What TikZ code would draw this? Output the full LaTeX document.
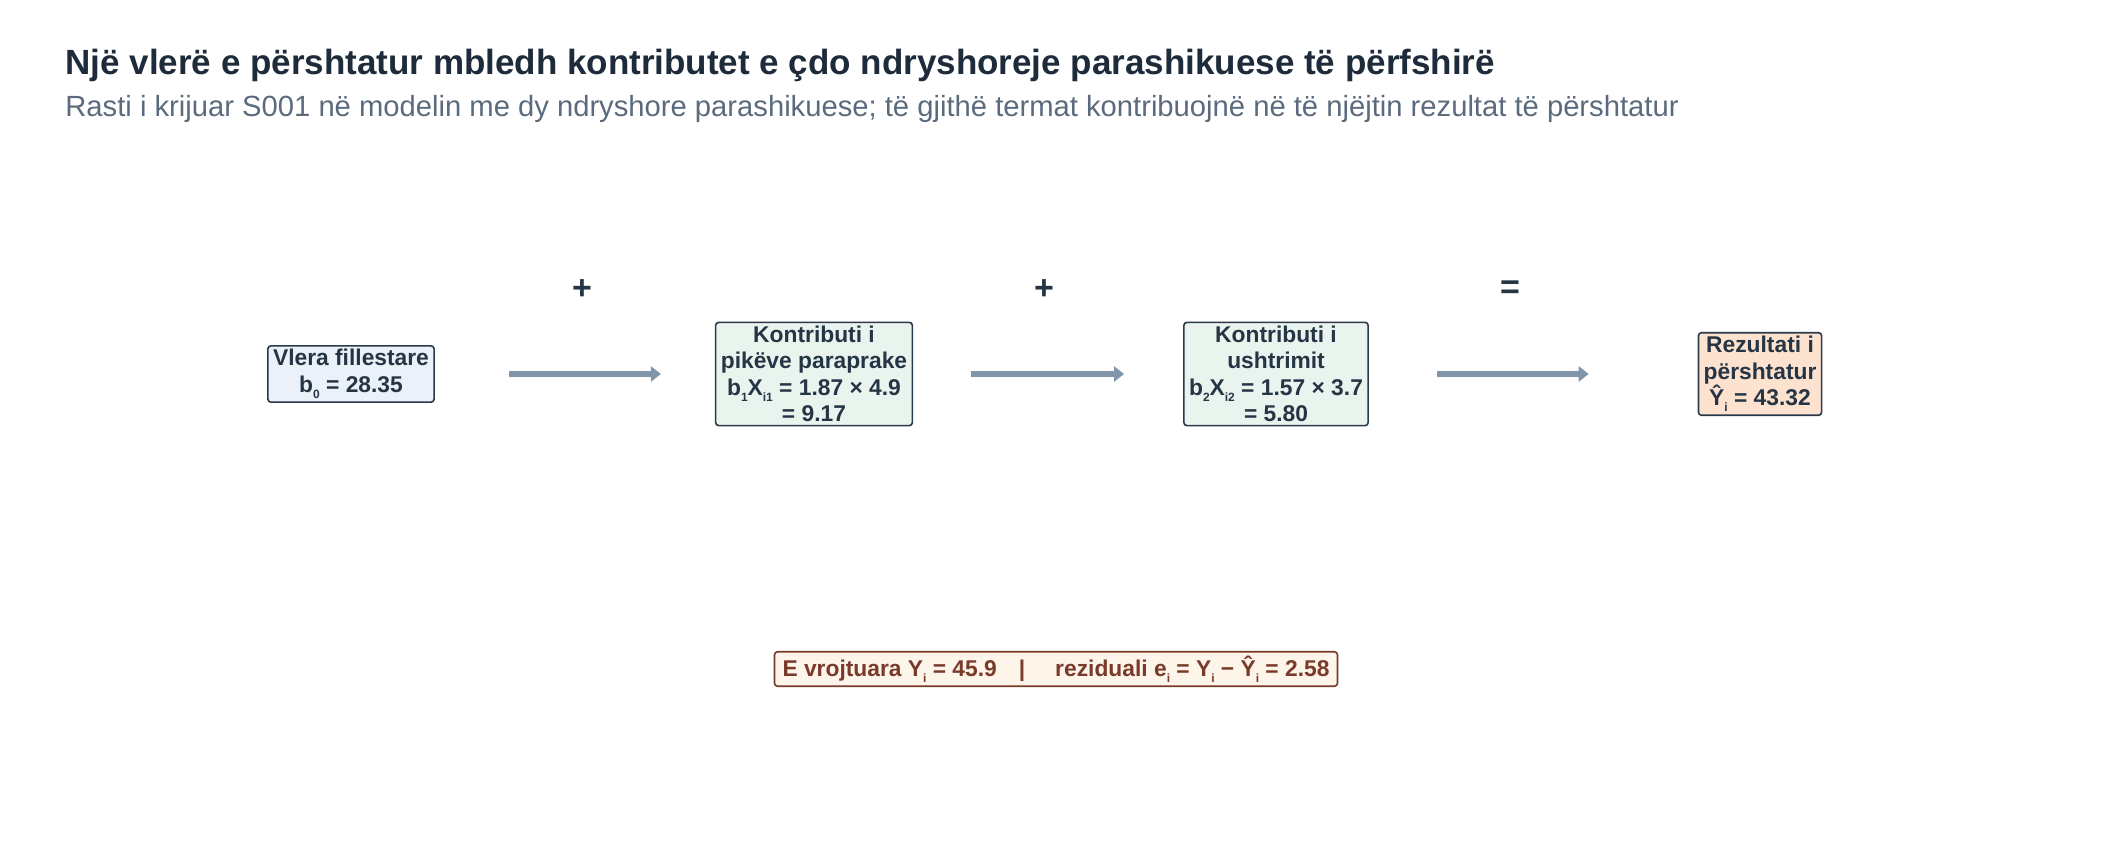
\documentclass[tikz,border=0pt]{standalone}
\usepackage{fontspec}
\setmainfont{Liberation Sans}
\usetikzlibrary{arrows.meta}
\definecolor{titlec}{HTML}{1E2B3A}
\definecolor{subc}{HTML}{5B6B7D}
\definecolor{edgec}{HTML}{2B3A4A}
\definecolor{textc}{HTML}{263545}
\definecolor{fillA}{HTML}{EAF1F8}
\definecolor{fillB}{HTML}{E9F4EE}
\definecolor{fillC}{HTML}{FDE2CF}
\definecolor{arrowc}{HTML}{8096A8}
\definecolor{obsfill}{HTML}{FDF4EA}
\definecolor{obsc}{HTML}{7A3A2A}
\newcommand{\lowsub}[1]{\raisebox{-0.5ex}{\fontsize{6}{6}\selectfont #1}}
\tikzset{
  termbox/.style={draw=edgec, line width=0.8pt, rounded corners=1.5pt, text=textc,
    font=\bfseries\fontsize{11.4}{13.2}\selectfont, align=center, inner xsep=2.6pt, inner ysep=1.8pt},
  flow/.style={draw=arrowc, line width=2.8pt, -{Triangle[length=5pt,width=7.5pt]}},
  opsign/.style={text=textc, font=\bfseries\fontsize{17}{18}\selectfont},
}
\begin{document}
\begin{tikzpicture}[x=0.5pt,y=-0.5pt]
\useasboundingbox (0,0) rectangle (2112,844);
\node[anchor=west, inner sep=0, text=titlec, font=\bfseries\fontsize{17.5}{20}\selectfont] (title) at (65,65)
  {Një vlerë e përshtatur mbledh kontributet e çdo ndryshoreje parashikuese të përfshirë};
\node[anchor=west, inner sep=0, text=subc, font=\fontsize{14.6}{17}\selectfont] (subtitle) at (65,109)
  {Rasti i krijuar S001 në modelin me dy ndryshore parashikuese; të gjithë termat kontribuojnë në të njëjtin rezultat të përshtatur};

\node[termbox, fill=fillA] (b0) at (351,374) {Vlera fillestare\\b\lowsub{0} = 28.35};
\node[termbox, fill=fillB] (b1) at (814,374) {Kontributi i\\pikëve paraprake\\b\lowsub{1}X\lowsub{i1} = 1.87 × 4.9\\= 9.17};
\node[termbox, fill=fillB] (b2) at (1276,374) {Kontributi i\\ushtrimit\\b\lowsub{2}X\lowsub{i2} = 1.57 × 3.7\\= 5.80};
\node[termbox, fill=fillC] (yhat) at (1760,374) {Rezultati i\\përshtatur\\Ŷ\lowsub{i} = 43.32};

\draw[flow] ([xshift=37pt]b0.east) -- ([xshift=-27pt]b1.west);
\draw[flow] ([xshift=29pt]b1.east) -- ([xshift=-29.5pt]b2.west);
\draw[flow] ([xshift=34pt]b2.east) -- ([xshift=-54.5pt]yhat.west);

\node[opsign] (op1) at (582,290) {+};
\node[opsign] (op2) at (1044,290) {+};
\node[opsign] (op3) at (1510,290) {=};

\node[draw=obsc, line width=0.8pt, rounded corners=1.5pt, fill=obsfill, text=obsc,
  font=\bfseries\fontsize{11.4}{13}\selectfont, inner xsep=4pt, inner ysep=2pt] (obs) at (1056,669)
  {E vrojtuara Y\lowsub{i} = 45.9\hspace{11pt}|\hspace{15pt}reziduali e\lowsub{i} = Y\lowsub{i} − Ŷ\lowsub{i} = 2.58};
\end{tikzpicture}
\end{document}
